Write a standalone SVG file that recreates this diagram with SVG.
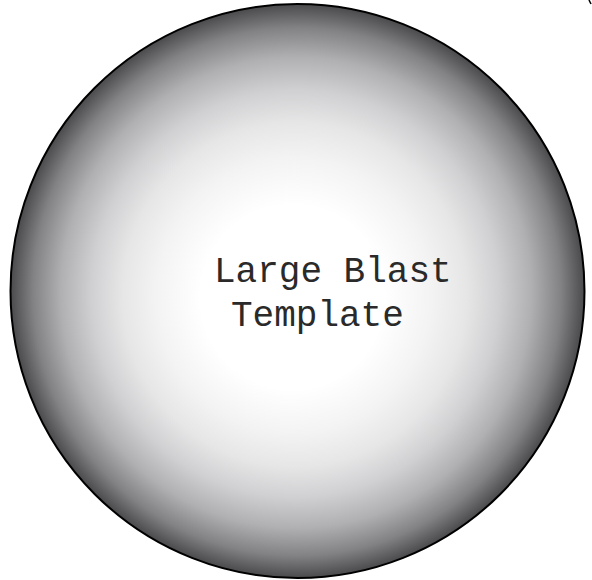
<svg xmlns="http://www.w3.org/2000/svg" width="592" height="580" viewBox="0 0 592 580">
<defs>
<radialGradient id="g" cx="297.5" cy="291" r="287" fx="290" fy="300" gradientUnits="userSpaceOnUse">
<stop offset="0" stop-color="#ffffff"/>
<stop offset="0.32" stop-color="#ffffff"/>
<stop offset="0.48" stop-color="#f3f3f3"/>
<stop offset="0.60" stop-color="#e6e6e7"/>
<stop offset="0.71" stop-color="#d0d0d2"/>
<stop offset="0.82" stop-color="#b0b0b3"/>
<stop offset="0.92" stop-color="#828285"/>
<stop offset="1" stop-color="#4a4a4c"/>
</radialGradient>
<style>
.t{font-family:"Liberation Mono","Courier New",monospace;font-size:36px;fill:#2a2a2a}
</style>
</defs>
<rect width="592" height="580" fill="#fff"/>
<g id="template">
<circle cx="297.5" cy="291" r="287" fill="url(#g)" stroke="#000" stroke-width="2"/>
<text class="t" x="214" y="282">Large Blast</text>
<text class="t" x="231" y="326">Template</text>
</g>
<path d="M589,0 L591,4" stroke="#000" stroke-width="1.5" fill="none"/>
</svg>
